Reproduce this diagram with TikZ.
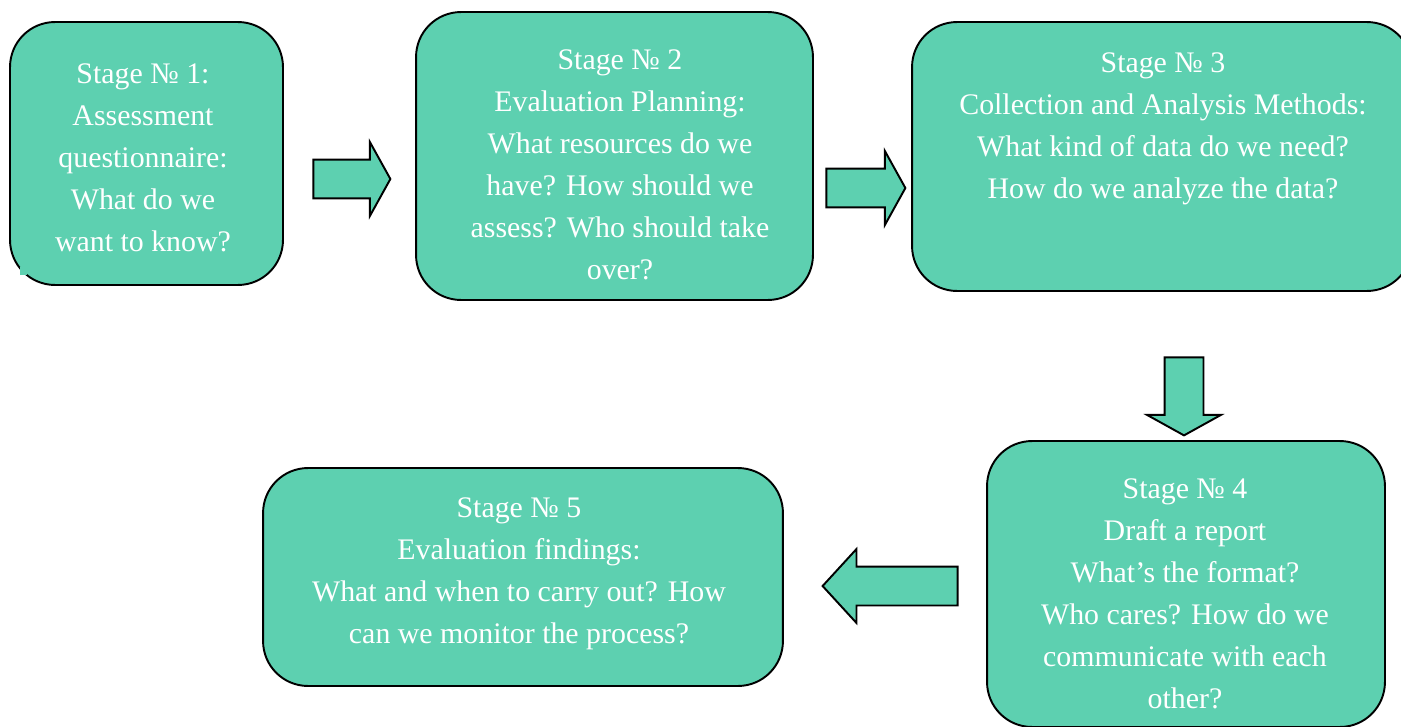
\documentclass[tikz,border=0pt]{standalone}
\usepackage{fontspec}
\setmainfont{Liberation Serif}
\usetikzlibrary{positioning,shapes.arrows}
\definecolor{Mint}{RGB}{93, 208, 176}

\tikzset{
  stagebox/.style={draw=black,line width=1.1pt,fill=Mint,rounded corners=0.9cm,inner sep=0pt},
  stagetext/.style={text=white,align=center,font=\fontsize{17}{23.9}\selectfont},
  blockarrow/.style={single arrow,draw=black,line width=1.1pt,fill=Mint,inner sep=0.37cm,
    single arrow head extend=0.35cm,single arrow tip angle=122},
}

\begin{document}
\begin{tikzpicture}[x=0.02cm,y=-0.02cm]
        \clip (0,0) rectangle (1401,727);
        % stage boxes
        \node[stagebox,minimum width=5.46cm,minimum height=5.26cm] (stage1) at (146.5,153.5) {};
        \fill[Mint] (20,267) rectangle (27,275);
        \node[stagebox,minimum width=7.94cm,minimum height=5.76cm] (stage2) at (614.5,156) {};
        \node[stagebox,minimum width=10cm,minimum height=5.38cm] (stage3) at (1162,156.5) {};
        \node[stagebox,minimum width=7.96cm,minimum height=5.72cm] (stage4) at (1186,584) {};
        \node[stagebox,minimum width=10.4cm,minimum height=4.36cm] (stage5) at (523,577) {};
        % texts
        \node[stagetext] (text1) at (143,158) {Stage № 1:\\Assessment\\questionnaire:\\What do we\\want to know?};
        \node[stagetext] (text2) at (620,165) {Stage № 2\\Evaluation Planning:\\What resources do we\\have? How should we\\assess? Who should take\\over?};
        \node[stagetext] (text3) at (1163,128.5) {Stage № 3\\Collection and Analysis Methods:\\What kind of data do we need?\\How do we analyze the data?};
        \node[stagetext] (text4) at (1185,594) {Stage № 4\\Draft a report\\What’s the format?\\Who cares? How do we\\communicate with each\\other?};
        \node[stagetext] (text5) at (519,574) {Stage № 5\\Evaluation findings:\\What and when to carry out? How\\can we monitor the process?};
        % block arrows
        \node[blockarrow,minimum height=1.54cm] (arrow12) at (346.5,179) {};
        \node[blockarrow,minimum height=1.58cm] (arrow23) at (860.5,188) {};
        \node[blockarrow,minimum height=1.56cm,shape border rotate=270] (arrow34) at (1184,391) {};
        \node[blockarrow,minimum height=2.7cm,single arrow tip angle=95,shape border rotate=180] (arrow45) at (899,586) {};
\end{tikzpicture}
\end{document}
